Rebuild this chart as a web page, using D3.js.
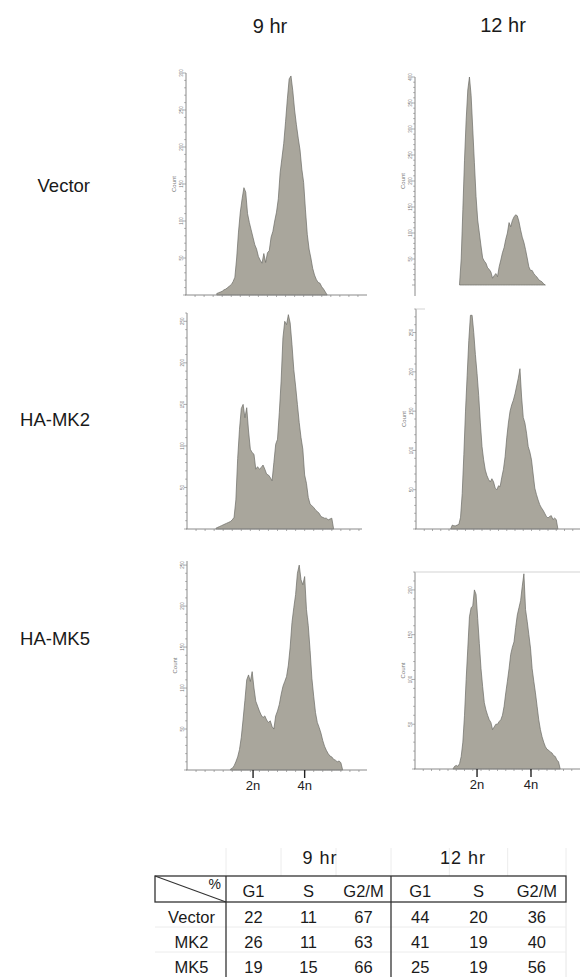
<!DOCTYPE html>
<html>
<head>
<meta charset="utf-8">
<script src="https://cdn.jsdelivr.net/npm/d3@7"></script>
<style>
  body { margin: 0; background: #fff; }
  svg { display: block; font-family: "Liberation Sans", Arial, sans-serif; }
</style>
</head>
<body>
<div id="chart"></div>
<script>
// column / row headings
var timePoints = ["9 hr", "12 hr"];
var constructs = ["Vector", "HA-MK2", "HA-MK5"];
var phases = ["G1", "S", "G2/M"];
var tableRows = ["Vector", "MK2", "MK5"];
var ploidyLabels = ["2n", "4n"];

// DNA content channel of the 2n / 4n peaks for each time point
var ploidy9 = [36.5, 65];
var ploidy12 = [37.6, 70.3];

// histogram counts, one value per channel starting at the given channel
var vector9Start = 17;
var vector9Counts = [2,3,4,5,7,8,10,12,14,18,24,50,85,112,130,145,139,110,98,88,78,68,62,52,47,43,56,44,57,60,78,86,100,112,130,165,185,205,234,265,292,296,276,250,230,212,196,170,152,115,82,62,50,36,27,21,17,16,11,8,4,0];
var vector12Start = 27;
var vector12Counts = [2,50,145,240,317,375,400,365,300,235,170,125,100,75,52,46,42,33,30,25,13,18,22,16,35,48,62,72,88,100,120,112,124,131,135,133,122,106,92,82,68,52,35,28,28,22,18,15,10,8,6,2,0];
var mk2_9Start = 16;
var mk2_9Counts = [1,2,3,4,5,6,7,8,9,11,14,35,85,120,145,150,134,146,118,96,92,90,72,75,72,74,77,72,66,65,62,58,80,102,108,140,178,230,250,246,258,248,222,192,172,150,128,110,96,65,55,38,30,28,26,23,21,19,15,14,13,13,11,12,13,0];
var mk2_12Start = 21;
var mk2_12Counts = [0,5,4,4,5,6,15,45,95,150,195,240,272,272,250,222,198,170,135,105,88,75,68,63,60,64,60,52,50,55,54,66,76,92,116,135,150,158,164,172,182,192,204,168,142,135,122,105,98,88,70,52,44,37,31,27,24,20,16,14,16,17,12,14,12,0];
var mk5_9Start = 24;
var mk5_9Counts = [1,2,5,10,16,25,40,62,85,110,116,108,120,100,84,78,72,67,64,66,61,58,60,53,50,66,72,80,92,102,108,114,128,150,180,198,214,240,250,232,226,236,196,176,146,112,90,70,58,52,45,36,29,24,20,17,16,13,12,10,11,9,0];
var mk5_12Start = 23;
var mk5_12Counts = [0,3,4,3,6,14,30,60,100,135,170,180,182,200,195,168,140,112,92,74,66,60,55,52,44,47,50,50,53,55,60,70,85,98,112,128,136,142,158,172,180,188,204,218,178,165,150,135,112,98,85,70,55,44,36,30,25,22,21,19,18,15,14,10,8,0];

// % of cells per phase: [G1, S, G2/M] at 9 hr then at 12 hr
var vectorPct = [22, 11, 67, 44, 20, 36];
var mk2Pct = [26, 11, 63, 41, 19, 40];
var mk5Pct = [19, 15, 66, 25, 19, 56];

var width = 582, height = 977;
var fillColor = "#a9a69c", edgeColor = "#6c6b66", axisColor = "#8a8a8a";

var svg = d3.select("#chart").append("svg")
  .attr("width", width)
  .attr("height", height);

// panel layout (pixels); yMax is the top of each count axis
var panels = [
  { counts: vector9Counts, start: vector9Start, yMax: 300, x0: 186, chWidth: 181, x1: 367, yTop: 73, yBase: 295, axisEnd: 295, xAxis: true, countLabel: true },
  { counts: vector12Counts, start: vector12Start, yMax: 400, x0: 415, chWidth: 165, x1: 580, yTop: 77, yBase: 285, axisEnd: 296, xAxis: false, countLabel: true },
  { counts: mk2_9Counts, start: mk2_9Start, yMax: 260, x0: 187, chWidth: 181, x1: 362, yTop: 313, yBase: 529, axisEnd: 529, xAxis: true, countLabel: false },
  { counts: mk2_12Counts, start: mk2_12Start, yMax: 280, x0: 416, chWidth: 165, x1: 580, yTop: 309, yBase: 529, axisEnd: 529, xAxis: true, countLabel: true, topCap: 9 },
  { counts: mk5_9Counts, start: mk5_9Start, yMax: 255, x0: 187, chWidth: 181, x1: 367, yTop: 561, yBase: 770, axisEnd: 770, xAxis: true, countLabel: true, ploidy: ploidy9 },
  { counts: mk5_12Counts, start: mk5_12Start, yMax: 220, x0: 415, chWidth: 165, x1: 580, yTop: 572, yBase: 769, axisEnd: 769, xAxis: true, countLabel: true, topCap: 165, ploidy: ploidy12 }
];

var drawPanel = function (p) {
  var g = svg.append("g").attr("class", "histPanel");
  var x = d3.scaleLinear().domain([0, 100]).range([p.x0, p.x0 + p.chWidth]);
  var y = d3.scaleLinear().domain([0, p.yMax]).range([p.yBase, p.yTop]);

  var area = d3.area()
    .x(function (d, i) { return x(p.start + i); })
    .y0(p.yBase)
    .y1(function (d) { return y(d); });

  g.append("path")
    .datum(p.counts)
    .attr("d", area)
    .attr("fill", fillColor)
    .attr("stroke", edgeColor)
    .attr("stroke-width", 0.7)
    .attr("stroke-linejoin", "round");

  // count axis
  g.append("line")
    .attr("x1", p.x0).attr("x2", p.x0)
    .attr("y1", p.yTop).attr("y2", p.axisEnd)
    .attr("stroke", axisColor).attr("stroke-width", 1);

  var minor = d3.range(0, p.yMax + 1, 10);
  g.selectAll(".ytick")
    .data(minor)
    .enter()
    .append("line")
    .attr("x1", function (d) { return p.x0 - (d % 50 === 0 ? 3 : 1.8); })
    .attr("x2", p.x0)
    .attr("y1", function (d) { return y(d); })
    .attr("y2", function (d) { return y(d); })
    .attr("stroke", axisColor).attr("stroke-width", 0.7);

  g.selectAll(".ylab")
    .data(minor.filter(function (d) { return d > 0 && d % 50 === 0; }))
    .enter()
    .append("text")
    .attr("transform", function (d) { return "translate(" + (p.x0 - 3.5) + "," + y(d) + ") rotate(-90)"; })
    .attr("text-anchor", "middle")
    .attr("font-size", 4.5)
    .attr("fill", "#777")
    .text(function (d) { return d; });

  if (p.countLabel) {
    g.append("text")
      .attr("transform", "translate(" + (p.x0 - 10) + "," + ((p.yTop + p.yBase) / 2) + ") rotate(-90)")
      .attr("text-anchor", "middle")
      .attr("font-size", 6)
      .attr("fill", "#777")
      .text("Count");
  }

  if (p.topCap) {
    g.append("line")
      .attr("x1", p.x0).attr("x2", p.x0 + p.topCap)
      .attr("y1", p.yTop).attr("y2", p.yTop)
      .attr("stroke", "#c8c8c8").attr("stroke-width", 0.8);
  }

  // DNA content axis
  if (p.xAxis) {
    g.append("line")
      .attr("x1", p.x0 - 1).attr("x2", p.x1)
      .attr("y1", p.yBase).attr("y2", p.yBase)
      .attr("stroke", axisColor).attr("stroke-width", 1);
    g.selectAll(".xtick")
      .data(d3.range(5, x.invert(p.x1), 5))
      .enter()
      .append("line")
      .attr("x1", function (d) { return x(d); })
      .attr("x2", function (d) { return x(d); })
      .attr("y1", p.yBase)
      .attr("y2", p.yBase + 2)
      .attr("stroke", axisColor).attr("stroke-width", 0.7);
  }

  if (p.ploidy) {
    var marks = g.selectAll(".ploidy")
      .data(p.ploidy)
      .enter()
      .append("g");
    marks.append("line")
      .attr("x1", function (d) { return x(d); })
      .attr("x2", function (d) { return x(d); })
      .attr("y1", p.yBase)
      .attr("y2", p.yBase + 8)
      .attr("stroke", "#222").attr("stroke-width", 1.4);
    marks.append("text")
      .attr("x", function (d) { return x(d); })
      .attr("y", p.yBase + 20)
      .attr("text-anchor", "middle")
      .attr("font-size", 13)
      .attr("fill", "#222")
      .text(function (d, i) { return ploidyLabels[i]; });
  }
};

panels.forEach(drawPanel);

// column and row titles
svg.selectAll(".colTitle")
  .data(timePoints)
  .enter()
  .append("text")
  .attr("x", function (d, i) { return [270, 503][i]; })
  .attr("y", function (d, i) { return [33, 32][i]; })
  .attr("text-anchor", "middle")
  .attr("font-size", 20)
  .attr("fill", "#1a1a1a")
  .text(function (d) { return d; });

svg.selectAll(".rowTitle")
  .data(constructs)
  .enter()
  .append("text")
  .attr("x", 90)
  .attr("y", function (d, i) { return [192, 426, 645][i]; })
  .attr("text-anchor", "end")
  .attr("font-size", 18.5)
  .attr("fill", "#1a1a1a")
  .text(function (d) { return d; });

// percentage table
var drawTable = function () {
  var t = svg.append("g").attr("class", "phaseTable");
  var left = 155, labelRight = 226, mid = 391, right = 566;
  var headTop = 876, headBottom = 902, rowH = 25, bottom = 980;

  var x9 = d3.scaleBand().domain(phases).range([labelRight, mid]);
  var x12 = d3.scaleBand().domain(phases).range([mid, right]);
  var colCenter = function (i) {
    var s = i < 3 ? x9 : x12;
    return s(phases[i % 3]) + s.bandwidth() / 2;
  };
  var colEdges = [labelRight].concat(d3.range(6).map(function (i) {
    var s = i < 3 ? x9 : x12;
    return s(phases[i % 3]) + s.bandwidth();
  }));

  // faint grid above the header and between body rows
  t.selectAll(".faintV")
    .data(colEdges)
    .enter()
    .append("line")
    .attr("x1", function (d) { return d; }).attr("x2", function (d) { return d; })
    .attr("y1", 848).attr("y2", headTop)
    .attr("stroke", "#ececec").attr("stroke-width", 1);
  t.append("line")
    .attr("x1", right).attr("x2", right)
    .attr("y1", headBottom).attr("y2", bottom)
    .attr("stroke", "#e6e6e6");
  t.selectAll(".faintH")
    .data([1, 2])
    .enter()
    .append("line")
    .attr("x1", left).attr("x2", right)
    .attr("y1", function (d) { return headBottom + d * rowH; })
    .attr("y2", function (d) { return headBottom + d * rowH; })
    .attr("stroke", "#ececec");

  t.selectAll(".tableTitle")
    .data(timePoints)
    .enter()
    .append("text")
    .attr("x", function (d, i) { return [320, 463][i]; })
    .attr("y", 864)
    .attr("text-anchor", "middle")
    .attr("font-size", 18)
    .attr("letter-spacing", 1)
    .attr("fill", "#1a1a1a")
    .text(function (d) { return d; });

  // header box and dividers
  t.append("rect")
    .attr("x", left).attr("y", headTop)
    .attr("width", right - left).attr("height", headBottom - headTop)
    .attr("fill", "none").attr("stroke", "#333").attr("stroke-width", 1.3);
  t.selectAll(".divider")
    .data([labelRight, mid])
    .enter()
    .append("line")
    .attr("x1", function (d) { return d; }).attr("x2", function (d) { return d; })
    .attr("y1", headTop).attr("y2", bottom)
    .attr("stroke", "#333").attr("stroke-width", 1.3);
  t.append("line")
    .attr("x1", left).attr("y1", headTop)
    .attr("x2", labelRight).attr("y2", headBottom)
    .attr("stroke", "#333").attr("stroke-width", 1.1);
  t.append("text")
    .attr("x", 221).attr("y", 889)
    .attr("text-anchor", "end")
    .attr("font-size", 14)
    .attr("fill", "#1a1a1a")
    .text("%");

  t.selectAll(".phaseHead")
    .data(phases.concat(phases))
    .enter()
    .append("text")
    .attr("x", function (d, i) { return colCenter(i); })
    .attr("y", 897)
    .attr("text-anchor", "middle")
    .attr("font-size", 16.5)
    .attr("fill", "#1a1a1a")
    .text(function (d) { return d; });

  var rows = t.selectAll(".tRow")
    .data([vectorPct, mk2Pct, mk5Pct])
    .enter()
    .append("g")
    .attr("transform", function (d, i) { return "translate(0," + (923 + i * rowH) + ")"; });

  rows.append("text")
    .attr("x", (left + labelRight) / 2 + 1)
    .attr("text-anchor", "middle")
    .attr("font-size", 16.5)
    .attr("fill", "#1a1a1a")
    .text(function (d, i) { return tableRows[i]; });

  rows.selectAll(".val")
    .data(function (d) { return d; })
    .enter()
    .append("text")
    .attr("x", function (d, i) { return colCenter(i); })
    .attr("text-anchor", "middle")
    .attr("font-size", 16.5)
    .attr("fill", "#1a1a1a")
    .text(function (d) { return d; });
};

drawTable();
</script>
</body>
</html>
